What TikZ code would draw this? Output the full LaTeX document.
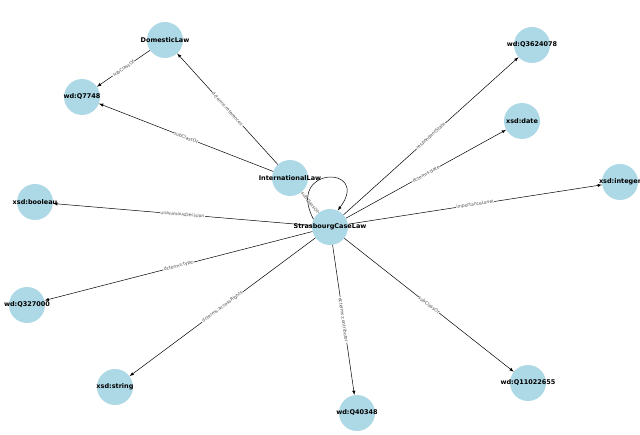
\documentclass[tikz,border=0pt]{standalone}
\usepackage{fontspec}
\setmainfont{DejaVu Sans}
\definecolor{lightblue}{RGB}{173,216,230}
\begin{document}
\begin{tikzpicture}[x=1pt,y=-1pt,
  nd/.style={circle,fill=lightblue,minimum size=36pt,inner sep=0pt},
  tx/.style={font=\fontsize{6.5}{7}\selectfont\bfseries,inner sep=0pt},
  ed/.style={-latex,black,line width=0.5pt},
  lb/.style={fill=white,inner sep=0.5pt,font=\fontsize{4.5}{5}\selectfont,text=black!70,sloped}]
\useasboundingbox (0,0) rectangle (640,435);
\foreach \n/\x/\y/\t in {dl/165/40/DomesticLaw, q7748/82/97/wd:Q7748, il/290/178/InternationalLaw, scl/330/227/StrasbourgCaseLaw, bool/35/202/xsd:booleau, q327/27/305/wd:Q327000, str/115/387/xsd:string, q40/357/413/wd:Q40348, q110/528/383/wd:Q11022655, int/620/182/xsd:integer, date/522/121/xsd:date, q362/532/45/wd:Q3624078}
  {\node[nd] (\n) at (\x,\y) {};}
\draw[ed] (dl) -- node[lb]{subClassOf} (q7748);
\draw[ed] (il) -- node[lb]{subClassOf} (q7748);
\draw[ed] (il) -- node[lb]{dcterms:references} (dl);
\draw[ed] (scl) -- node[lb]{subClassOf} (il);
\draw[ed] (scl) -- node[lb]{unanimousDecision} (bool);
\draw[ed] (scl) -- node[lb]{dcterms:type} (q327);
\draw[ed] (scl) -- node[lb]{dcterms:accessRights} (str);
\draw[ed] (scl) -- node[lb]{dcterms:contributor} (q40);
\draw[ed] (scl) -- node[lb]{subClassOf} (q110);
\draw[ed] (scl) -- node[lb]{importanceLevel} (int);
\draw[ed] (scl) -- node[lb]{dcterms:date} (date);
\draw[ed] (scl) -- node[lb]{respondentState} (q362);
\draw[ed] (scl.155) .. controls (285,165) and (372,165) .. (scl.65);
\foreach \n/\t in {dl/DomesticLaw, q7748/wd:Q7748, il/InternationalLaw, scl/StrasbourgCaseLaw, bool/xsd:booleau, q327/wd:Q327000, str/xsd:string, q40/wd:Q40348, q110/wd:Q11022655, int/xsd:integer, date/xsd:date, q362/wd:Q3624078}
  {\node[tx] (\n-t) at (\n) {\t};}
\end{tikzpicture}
\end{document}
